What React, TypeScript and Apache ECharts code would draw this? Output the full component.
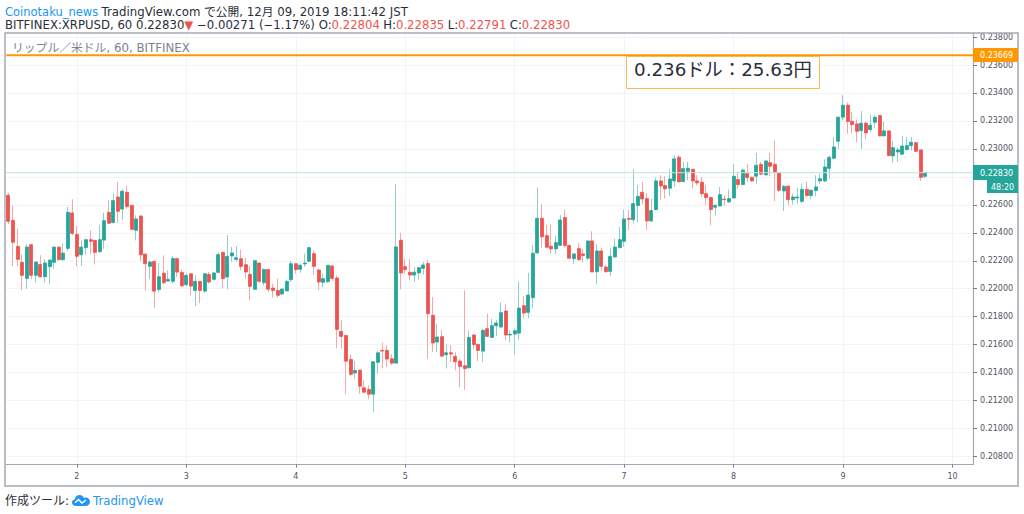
import React, { useEffect, useRef } from "react";
import * as echarts from "echarts";

// Prices in 1/100000 USD, hourly candles
const opens = [
22668,22489,22303,22189,22074,22315,22096,22174,22086,22158,
22189,22298,22208,22289,22542,22389,22243,22294,22351,22346,
22265,22348,22547,22473,22656,22570,22690,22597,22418,22520,
22248,22160,22196,21995,22112,22055,22053,22215,22117,22029,
22107,21988,22053,21983,22103,22067,22117,22261,22084,22234,
22210,22215,22172,22103,21996,22184,22043,22137,22005,21988,
21962,21984,22065,22179,22139,22177,22196,22251,22134,22046,
22051,22163,22077,21695,21666,21494,21397,21418,21292,21280,
21246,21473,21559,21559,21499,21468,22347,22158,22118,22098,
22113,22146,22180,21810,21619,21657,21528,21542,21516,21483,
21449,21435,21669,21602,21554,21714,21652,21736,21726,21841,
21669,21676,21683,21879,21831,21936,22256,22504,22380,22304,
22285,22311,22509,22309,22215,22287,22249,22218,22342,22122,
22270,22155,22124,22227,22294,22339,22504,22494,22595,22690,
22645,22485,22566,22771,22738,22719,22771,22941,22766,22840,
22855,22771,22762,22680,22652,22583,22592,22642,22621,22649,
22781,22745,22826,22797,22805,22890,22814,22902,22890,22830,
22699,22733,22637,22649,22625,22711,22666,22702,22771,22771,
22861,22933,23055,23227,23313,23198,23179,23131,23184,23138,
23191,23239,23093,23129,22950,22978,22962,22995,23024,23045,
22993,22804];
const closes = [
22482,22332,22210,22096,22298,22096,22191,22086,22184,22205,
22298,22208,22255,22547,22396,22232,22298,22351,22339,22260,
22351,22487,22468,22630,22554,22697,22587,22425,22499,22243,
22179,22191,21983,22086,22043,22067,22217,22119,22021,22096,
22019,22053,21988,22107,22048,22113,22244,22072,22232,22256,
22222,22160,22120,22017,22201,22053,22137,21996,21988,21953,
21998,22053,22179,22137,22168,22184,22294,22160,22048,22072,
22168,22074,21709,21659,21482,21387,21416,21303,21260,21246,
21478,21542,21554,21497,21468,22299,22113,22137,22098,22118,
22151,22170,21822,21612,21655,21518,21542,21533,21478,21444,
21428,21652,21600,21559,21702,21659,21736,21755,21829,21669,
21674,21700,21862,21826,21955,22254,22504,22371,22297,22285,
22330,22492,22309,22218,22249,22208,22237,22342,22120,22270,
22160,22122,22232,22298,22351,22499,22497,22609,22661,22642,
22485,22559,22771,22735,22714,22785,22929,22764,22859,22862,
22771,22757,22680,22652,22566,22597,22673,22637,22645,22805,
22745,22848,22795,22771,22883,22819,22914,22876,22831,22704,
22733,22637,22656,22656,22711,22666,22704,22728,22787,22871,
22940,23014,23227,23313,23196,23174,23126,23184,23114,23169,
23227,23093,23129,22952,23009,22993,23021,23024,23048,22983,
22797,22830];
const lows = [
22461,22162,22162,21990,21999,22069,22045,22079,22045,22033,
22143,22203,22198,22270,22384,22162,22162,22241,22251,22174,
22258,22286,22465,22468,22470,22494,22570,22423,22346,22198,
21988,22072,21864,21974,22031,22053,22038,22084,22012,22017,
21955,21876,21897,21971,22036,22065,22115,22003,21996,22191,
22191,22132,22072,21919,21996,22041,22024,21977,21936,21936,
21960,21984,22048,22108,22113,22156,22194,22098,21989,22010,
22041,22055,21576,21571,21249,21377,21358,21249,21253,21210,
21120,21392,21432,21439,21454,21468,21996,22108,22060,22048,
22065,22103,21499,21547,21547,21511,21430,21475,21416,21296,
21277,21430,21569,21483,21475,21655,21647,21662,21721,21631,
21616,21528,21631,21791,21791,21865,22251,22294,22287,22251,
22246,22309,22294,22215,22177,22199,22189,22204,22120,22032,
22124,22115,22088,22222,22289,22299,22418,22466,22475,22604,
22418,22478,22561,22638,22645,22664,22728,22762,22764,22776,
22716,22740,22657,22597,22454,22525,22587,22592,22614,22645,
22716,22740,22764,22764,22747,22814,22812,22807,22626,22692,
22556,22597,22601,22608,22613,22661,22644,22661,22752,22764,
22787,22926,22997,23205,23110,23110,23050,22997,23069,23122,
23150,23091,23091,22950,22902,22907,22959,22990,22990,22978,
22771,22791];
const highs = [
22687,22597,22430,22246,22317,22315,22191,22239,22210,22210,
22298,22298,22322,22585,22640,22451,22346,22351,22418,22346,
22454,22544,22633,22683,22764,22711,22738,22597,22525,22525,
22248,22203,22196,22184,22239,22131,22232,22220,22136,22107,
22107,22096,22053,22112,22120,22120,22263,22261,22385,22299,
22304,22280,22222,22163,22201,22184,22144,22137,22036,22072,
21998,22065,22201,22179,22179,22251,22294,22275,22144,22103,
22168,22163,22094,21774,21666,21530,21482,21418,21344,21308,
21478,21559,21614,21595,21535,22748,22401,22215,22215,22156,
22156,22192,22208,21941,21750,21707,21600,21595,21547,21499,
21989,21702,21678,21607,21714,21822,21786,21774,21903,21893,
21702,21714,22051,21946,22113,22313,22724,22605,22454,22461,
22380,22526,22566,22318,22249,22328,22285,22342,22411,22318,
22294,22170,22294,22358,22442,22566,22566,22852,22740,22764,
22685,22645,22795,22812,22805,22852,22955,22955,22907,22907,
22855,22812,22800,22740,22661,22597,22728,22669,22709,22891,
22836,22859,22891,22797,22972,22907,22914,22972,23062,22830,
22740,22740,22680,22723,22752,22764,22711,22811,22823,22926,
22952,23081,23227,23384,23332,23265,23210,23270,23193,23248,
23241,23239,23193,23129,23057,23009,23091,23086,23086,23050,
22993,22835];

const slotCount = 212;
const dayLabels = ["2", "3", "4", "5", "6", "7", "8", "9", "10"];
const dayIndexes = [15, 39, 63, 87, 111, 135, 159, 183, 207];
const priceTicks = [0.208, 0.21, 0.212, 0.214, 0.216, 0.218, 0.22, 0.222, 0.224, 0.226, 0.228, 0.23, 0.232, 0.234, 0.236, 0.238];
// 0.22800 sits behind the current-price tag in the reference
const priceLabels = [0.208, 0.21, 0.212, 0.214, 0.216, 0.218, 0.22, 0.222, 0.224, 0.226, 0.23, 0.232, 0.234, 0.236, 0.238];
const levelPrice = 0.23669;
const lastPrice = 0.2283;
const axisMin = 0.20743;
const axisMax = 0.23829;

const UP = "#26a69a";
const DOWN = "#ef5350";
const UP_WICK = "#8ed1ca";
const DOWN_WICK = "#f7a8a6";
const GRID = "#f1f4f9";
const FRAME = "#a6a9b2";
const LABEL = "#50535e";
const FONT = "'DejaVu Sans','Noto Sans CJK JP',sans-serif";
const BLUE = "#2196f3";

const LOGO_D =
  "M4 11C1.5 11 0 9.5 0 7.5C0 5.8 1.2 4.5 2.8 4.2C3.2 1.8 5.2 0 7.5 0C9.5 0 11.2 1.2 12 3C12.6 2.7 13.2 2.6 13.8 2.6C16 2.6 18 4.6 18 6.8C18 9.2 16 11 13.8 11Z";

export default function App() {
  const ref = useRef<HTMLDivElement>(null);
  useEffect(() => {
    if (!ref.current) return;
    echarts.graphic.registerShape("tvLogo", echarts.graphic.extendPath(LOGO_D, {}) as any);
    const chart = echarts.init(ref.current, undefined, { renderer: "svg" });
    const categories = Array.from({ length: slotCount }, (_, i) => `h${i}`);
    const isDay = (i: number) => dayIndexes.includes(i);
    const full = opens.map((o, i) => [o / 1e5, closes[i] / 1e5, lows[i] / 1e5, highs[i] / 1e5]);
    const bodies = opens.map((o, i) => [
      o / 1e5,
      closes[i] / 1e5,
      Math.min(o, closes[i]) / 1e5,
      Math.max(o, closes[i]) / 1e5,
    ]);
    const txt = (text: string, x: number, y: number, fontSize: number, fill: string, extra: any = {}) => ({
      type: "text",
      x,
      y,
      z: 100,
      style: { text, fontSize, fill, fontFamily: FONT, textVerticalAlign: "middle", ...extra },
    });
    chart.setOption({
      animation: false,
      backgroundColor: "#ffffff",
      grid: { left: 6.2, right: 51, top: 33, bottom: 49.5, containLabel: false },
      xAxis: [
        {
          type: "category",
          data: categories,
          boundaryGap: true,
          axisLine: { show: true, onZero: false, lineStyle: { color: FRAME, width: 1.2 } },
          axisTick: { show: true, alignWithLabel: true, length: 3, interval: (i: number) => isDay(i), lineStyle: { color: "#787b86" } },
          splitLine: { show: true, alignWithLabel: true, interval: (i: number) => isDay(i), lineStyle: { color: GRID, width: 1 } },
          axisLabel: {
            show: true,
            interval: (i: number) => isDay(i),
            formatter: (_: string, i: number) => dayLabels[dayIndexes.indexOf(i)] ?? "",
            color: LABEL,
            fontSize: 8,
            fontFamily: FONT,
            margin: 8,
          },
        },
        {
          type: "category",
          data: ["start", "end"],
          boundaryGap: false,
          show: false,
        },
      ],
      yAxis: {
        type: "value",
        position: "right",
        min: axisMin,
        max: axisMax,
        scale: true,
        axisLine: { show: true, lineStyle: { color: FRAME, width: 1.2 } },
        axisTick: { show: true, length: 4, customValues: priceTicks, lineStyle: { color: "#787b86" } },
        splitLine: { show: true, lineStyle: { color: GRID, width: 1 } },
        axisLabel: {
          show: true,
          customValues: priceLabels,
          formatter: (v: number) => v.toFixed(5),
          color: LABEL,
          fontSize: 8,
          fontFamily: FONT,
          margin: 7,
          padding: [5, 0, 0, 0],
        },
      },
      series: [
        {
          name: "orange level",
          type: "line",
          xAxisIndex: 1,
          data: [levelPrice, levelPrice],
          showSymbol: false,
          silent: true,
          lineStyle: { color: "#ff9800", width: 2 },
          itemStyle: { color: "#ff9800" },
        },
        {
          name: "last price",
          type: "line",
          xAxisIndex: 1,
          data: [lastPrice, lastPrice],
          showSymbol: false,
          silent: true,
          lineStyle: { color: "#bfe3df", width: 1 },
          itemStyle: { color: "#bfe3df" },
        },
        {
          name: "wicks",
          type: "candlestick",
          data: full,
          barWidth: 1,
          itemStyle: { color: UP_WICK, color0: DOWN_WICK, borderColor: UP_WICK, borderColor0: DOWN_WICK, borderWidth: 1 },
          silent: true,
        },
        {
          name: "XRPUSD",
          type: "candlestick",
          data: bodies,
          barWidth: 3.5,
          itemStyle: { color: UP, color0: DOWN, borderColor: UP, borderColor0: DOWN, borderWidth: 0.8 },
          silent: true,
        },
      ],
      graphic: [
        { type: "rect", z: 90, shape: { x: 5, y: 33, width: 1013, height: 453 }, style: { fill: "none", stroke: FRAME, lineWidth: 1.5 } },
        // header
        {
          type: "text",
          x: 5,
          y: 12,
          z: 100,
          style: {
            text: "{a|Coinotaku_news} {b|TradingView.com で公開, 12月 09, 2019 18:11:42 JST}",
            textVerticalAlign: "middle",
            rich: {
              a: { fill: BLUE, fontSize: 11.5, fontFamily: FONT },
              b: { fill: "#2a2e39", fontSize: 11.75, fontFamily: FONT },
            },
          },
        },
        {
          type: "text",
          x: 5,
          y: 25,
          z: 100,
          style: {
            text: "{b|BITFINEX:XRPUSD, 60 0.22830}{r|▼}{b| −0.00271 (−1.17%) O:}{r|0.22804} {b|H:}{r|0.22835} {b|L:}{r|0.22791} {b|C:}{r|0.22830}",
            textVerticalAlign: "middle",
            rich: {
              b: { fill: "#2a2e39", fontSize: 11.7, fontFamily: FONT },
              r: { fill: DOWN, fontSize: 11.7, fontFamily: FONT },
            },
          },
        },
        txt("リップル／米ドル, 60, BITFINEX", 12, 47.5, 11.8, "#80838e"),
        // annotation
        { type: "rect", z: 95, shape: { x: 626.5, y: 56.5, width: 193, height: 32 }, style: { fill: "#ffffff", stroke: "#ffb74d", lineWidth: 1 } },
        txt("0.236ドル：25.63円", 634, 69, 18.3, "#2a2e39"),
        // price tags
        { type: "rect", z: 98, shape: { x: 973, y: 48, width: 45, height: 14 }, style: { fill: "#ff9800" } },
        txt("0.23669", 980, 55.5, 8, "#ffffff"),
        { type: "rect", z: 98, shape: { x: 973, y: 165, width: 45, height: 15 }, style: { fill: UP } },
        txt("0.22830", 980, 173, 8, "#ffffff"),
        { type: "rect", z: 98, shape: { x: 987, y: 180, width: 31, height: 13 }, style: { fill: UP } },
        txt("48:20", 991, 187, 8, "#ffffff"),
        // footer
        txt("作成ツール:", 5, 501, 12, "#2a2e39"),
        {
          type: "group",
          x: 72,
          y: 495,
          z: 100,
          children: [
            { type: "tvLogo", style: { fill: BLUE } },
            { type: "polyline", shape: { points: [[3, 7.8], [6.5, 4.5], [10, 8], [14, 5]] }, style: { stroke: "#ffffff", fill: "none", lineWidth: 1.4 } },
          ],
        },
        txt("TradingView", 93, 501, 11.7, BLUE),
      ],
    });
    return () => chart.dispose();
  }, []);
  return <div ref={ref} style={{ position: "fixed", left: 0, top: 0, width: 1024, height: 514 }} />;
}
